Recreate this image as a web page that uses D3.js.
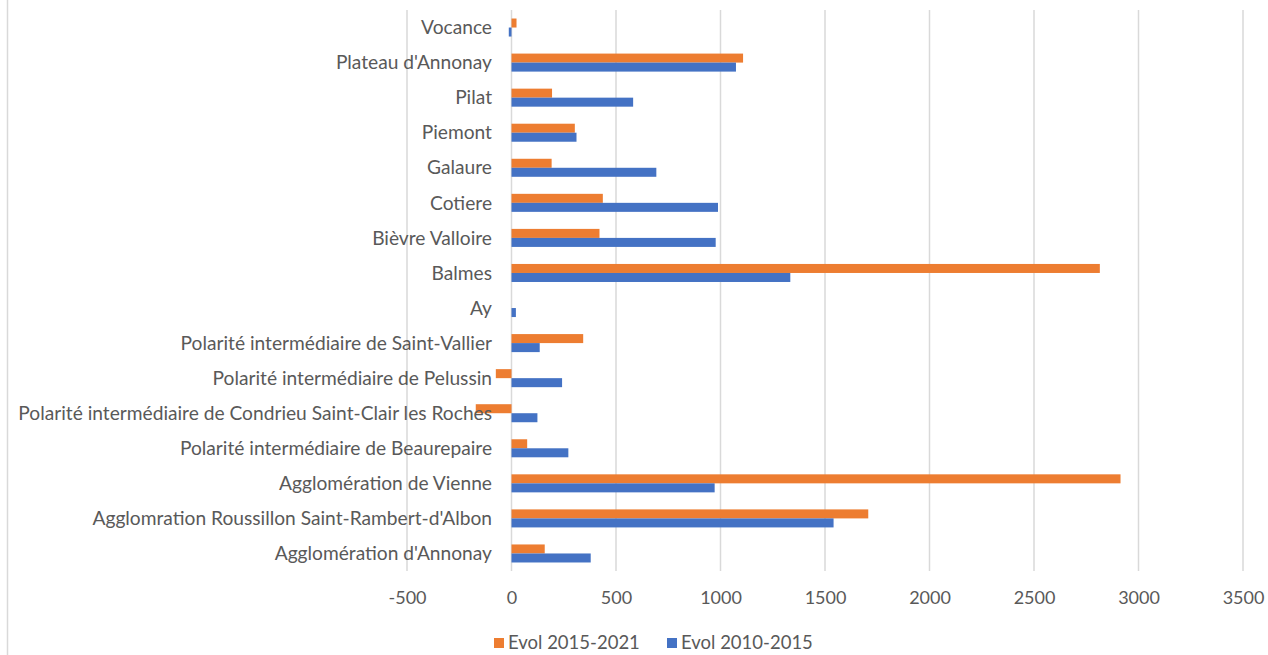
<!DOCTYPE html>
<html>
<head>
<meta charset="utf-8">
<script src="https://cdn.jsdelivr.net/npm/d3@7"></script>
<style>
  body { margin: 0; background: #fff; }
  svg { display: block; font-family: Lato, "Liberation Sans", sans-serif; }
</style>
</head>
<body>
<svg width="1268" height="655"></svg>
<script>
// categories top to bottom as drawn
const categories = [
  "Vocance",
  "Plateau d'Annonay",
  "Pilat",
  "Piemont",
  "Galaure",
  "Cotiere",
  "Bièvre Valloire",
  "Balmes",
  "Ay",
  "Polarité intermédiaire de Saint-Vallier",
  "Polarité intermédiaire de Pelussin",
  "Polarité intermédiaire de Condrieu Saint-Clair les Roches",
  "Polarité intermédiaire de Beaurepaire",
  "Agglomération de Vienne",
  "Agglomration Roussillon Saint-Rambert-d'Albon",
  "Agglomération d'Annonay"
];
const evol2015_2021 = [24, 1108, 194, 303, 192, 437, 421, 2815, 0, 343, -75, -171, 75, 2914, 1707, 159];
const evol2010_2015 = [-13, 1074, 582, 311, 693, 988, 977, 1334, 21, 135, 242, 124, 272, 972, 1541, 379];
const seriesNames = ["Evol 2015-2021", "Evol 2010-2015"];
const seriesColors = ["#ED7D31", "#4472C4"];
const xTicks = [-500, 0, 500, 1000, 1500, 2000, 2500, 3000, 3500];

const svg = d3.select("svg");
const textColor = "#595959";
const gridColor = "#d9d9d9";

// plot area
const plot = { left: 407, right: 1243, top: 10, bottom: 571 };

const x = d3.scaleLinear().domain([-500, 3500]).range([plot.left, plot.right]);
const y = d3.scaleBand().domain(categories).range([plot.top, plot.bottom]).paddingInner(0.486).paddingOuter(0.243);
const sub = d3.scaleBand().domain(seriesNames).range([0, y.bandwidth()]);

// chart border on the left
svg.append("line")
  .attr("x1", 7.5).attr("x2", 7.5).attr("y1", 0).attr("y2", 655)
  .attr("stroke", gridColor).attr("stroke-width", 1.5);

// gridlines
svg.append("g")
  .selectAll("line")
  .data(xTicks)
  .enter()
  .append("line")
  .attr("x1", d => x(d)).attr("x2", d => x(d))
  .attr("y1", plot.top).attr("y2", plot.bottom)
  .attr("stroke", gridColor)
  .attr("stroke-width", 1.5);

// x axis tick labels (plain hyphen for negatives, like the original)
const xAxis = svg.append("g")
  .attr("transform", `translate(0,${plot.bottom})`)
  .call(d3.axisBottom(x).tickValues(xTicks).tickSize(0).tickPadding(20).tickFormat(d => String(d)));
xAxis.select(".domain").remove();
xAxis.selectAll("text")
  .attr("fill", textColor)
  .style("font-size", "18px")
  .style("font-family", "Lato, sans-serif");

// bars
const rows = categories.map((c, i) => ({ cat: c, vals: [evol2015_2021[i], evol2010_2015[i]] }));
const groups = svg.append("g")
  .selectAll("g")
  .data(rows)
  .enter()
  .append("g")
  .attr("transform", d => `translate(0,${y(d.cat)})`);

groups.selectAll("rect")
  .data(d => d.vals.map((v, k) => ({ v: v, s: seriesNames[k], k: k })))
  .enter()
  .append("rect")
  .attr("x", d => x(Math.min(0, d.v)))
  .attr("width", d => Math.abs(x(d.v) - x(0)))
  .attr("y", d => sub(d.s))
  .attr("height", sub.bandwidth())
  .attr("fill", d => seriesColors[d.k]);

// category labels
const labels = svg.append("g")
  .selectAll("text")
  .data(categories)
  .enter()
  .append("text")
  .attr("x", 492)
  .attr("y", d => y(d) + y.bandwidth() / 2)
  .attr("dy", "0.35em")
  .attr("text-anchor", "end")
  .attr("fill", textColor)
  .style("font-size", "17px")
  .text(d => d);

// fit font so the longest label spans like the original
let maxW = 0;
labels.each(function() { maxW = Math.max(maxW, this.getComputedTextLength()); });
const fs = 17 * 474 / maxW;
labels.style("font-size", fs + "px");

// legend
const legend = svg.append("g").attr("transform", "translate(0,643)");
const legendX = [494, 667];
seriesNames.forEach((name, k) => {
  legend.append("rect")
    .attr("x", legendX[k]).attr("y", -5)
    .attr("width", 10).attr("height", 10)
    .attr("fill", seriesColors[k]);
  legend.append("text")
    .attr("x", legendX[k] + 14).attr("y", 0)
    .attr("dy", "0.35em")
    .attr("fill", textColor)
    .style("font-size", "18.5px")
    .text(name);
});
</script>
</body>
</html>
